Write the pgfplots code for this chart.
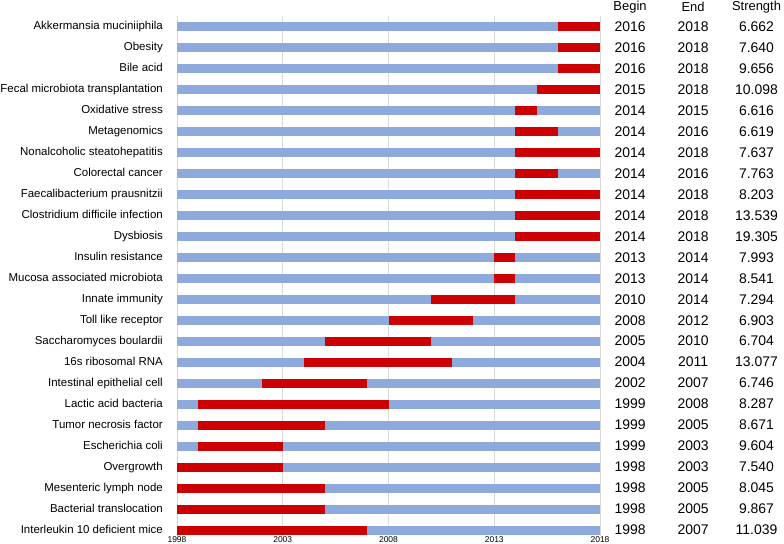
\documentclass[border=0pt]{standalone}
\usepackage{fontspec}
\setmainfont{Liberation Sans}
\usepackage{pgfplots}
\usepackage{pgfplotstable}
\pgfplotsset{compat=1.18}
\definecolor{myblue}{HTML}{8EA9DB}
\definecolor{myred}{HTML}{CC0000}
\begin{document}
\pgfplotstableread[col sep=comma]{
row,label,begin,end,strength
0,Akkermansia muciniiphila,2016,2018,6.662
1,Obesity,2016,2018,7.640
2,Bile acid,2016,2018,9.656
3,Fecal microbiota transplantation,2015,2018,10.098
4,Oxidative stress,2014,2015,6.616
5,Metagenomics,2014,2016,6.619
6,Nonalcoholic steatohepatitis,2014,2018,7.637
7,Colorectal cancer,2014,2016,7.763
8,Faecalibacterium prausnitzii,2014,2018,8.203
9,Clostridium difficile infection,2014,2018,13.539
10,Dysbiosis,2014,2018,19.305
11,Insulin resistance,2013,2014,7.993
12,Mucosa associated microbiota,2013,2014,8.541
13,Innate immunity,2010,2014,7.294
14,Toll like receptor,2008,2012,6.903
15,Saccharomyces boulardii,2005,2010,6.704
16,16s ribosomal RNA,2004,2011,13.077
17,Intestinal epithelial cell,2002,2007,6.746
18,Lactic acid bacteria,1999,2008,8.287
19,Tumor necrosis factor,1999,2005,8.671
20,Escherichia coli,1999,2003,9.604
21,Overgrowth,1998,2003,7.540
22,Mesenteric lymph node,1998,2005,8.045
23,Bacterial translocation,1998,2005,9.867
24,Interleukin 10 deficient mice,1998,2007,11.039
}\data
\begin{tikzpicture}
\path[use as bounding box] (0,0) rectangle (784bp,544bp);
\begin{axis}[
  at={(388.5bp,267.85bp)}, anchor=center,
  scale only axis, width=423bp, height=520.3bp,
  xmin=1998, xmax=2018, ymin=-0.5, ymax=24.3,
  y dir=reverse,
  clip=false,
  axis line style={draw=none},
  tick style={draw=none},
  xtick={1998,2003,2008,2013,2018},
  xticklabels={1998,2003,2008,2013,2018},
  xticklabel style={font=\fontsize{8.5}{9}\selectfont, inner sep=0.5bp},
  xmajorgrids,
  grid style={draw=black!15, line width=0.8bp},
  ytick={0,...,24},
  yticklabels from table={\data}{label},
  yticklabel style={font=\fontsize{11.5}{12}\selectfont, anchor=east, inner sep=0pt, xshift=-14bp, text height=1.6ex, text depth=0.45ex},
]
\addplot[draw=none, mark=none, forget plot,
  error bars/.cd, x dir=plus, x explicit, error mark=none,
  error bar style={draw=myblue, line width=9bp, solid}]
  table[x expr=1998, y=row, x error expr=20] {\data};
\addplot[draw=none, mark=none, forget plot,
  error bars/.cd, x dir=plus, x explicit, error mark=none,
  error bar style={draw=myred, line width=9bp, solid}]
  table[x=begin, y=row, x error expr=\thisrow{end}-\thisrow{begin}] {\data};
\addplot[draw=none, mark=none, nodes near coords, point meta=explicit symbolic,
  nodes near coords style={anchor=center, font=\fontsize{14}{14}\selectfont, text=black}]
  table[x expr=2019.42, y=row, meta=begin] {\data};
\addplot[draw=none, mark=none, nodes near coords, point meta=explicit symbolic,
  nodes near coords style={anchor=center, font=\fontsize{14}{14}\selectfont, text=black}]
  table[x expr=2022.4, y=row, meta=end] {\data};
\addplot[draw=none, mark=none, nodes near coords, point meta=explicit symbolic,
  nodes near coords style={anchor=center, font=\fontsize{14}{14}\selectfont, text=black}]
  table[x expr=2025.4, y=row, meta=strength] {\data};
\node[font=\fontsize{13}{13}\selectfont] at (axis cs:2019.42,-0.93) {Begin};
\node[font=\fontsize{13}{13}\selectfont] at (axis cs:2022.4,-0.93) {End};
\node[font=\fontsize{13}{13}\selectfont] at (axis cs:2025.4,-0.93) {Strength};
\end{axis}
\end{tikzpicture}
\end{document}
